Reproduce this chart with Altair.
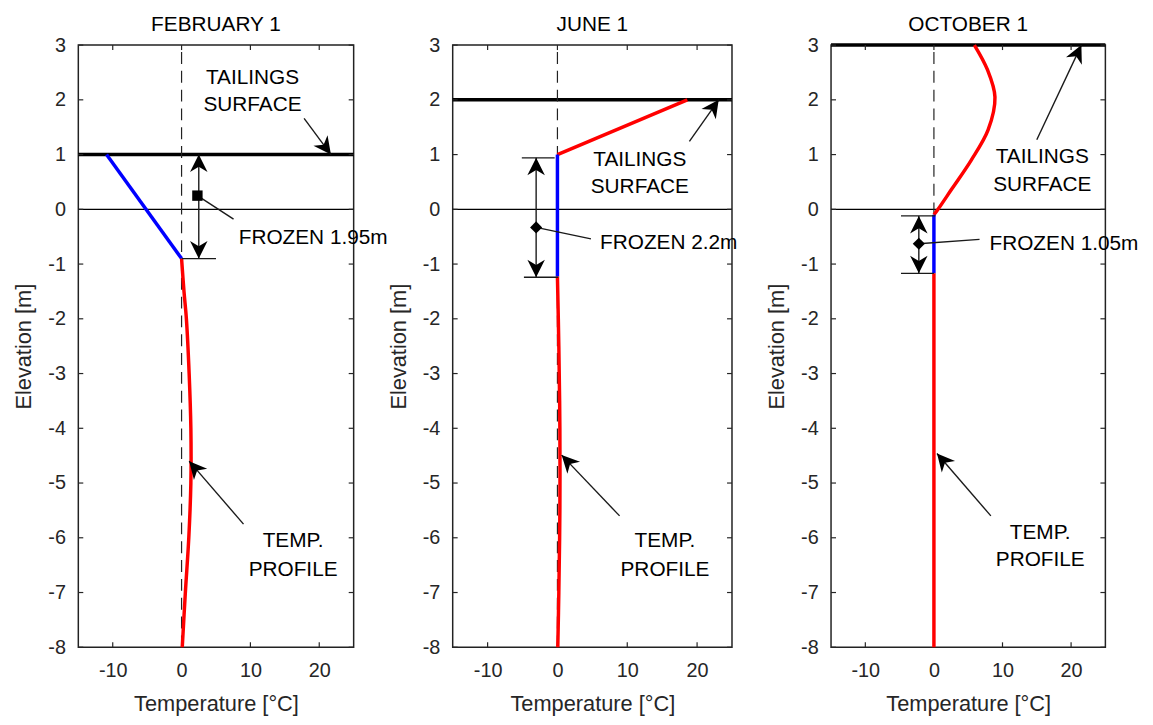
import math
import altair as alt
import pandas as pd

# ---------------- data ----------------
X_DOMAIN = [-15, 25]
Y_DOMAIN = [-8, 3]
X_TICKS = [-10, 0, 10, 20]
Y_TICKS = [-8, -7, -6, -5, -4, -3, -2, -1, 0, 1, 2, 3]

TITLES = ["FEBRUARY 1", "JUNE 1", "OCTOBER 1"]
SURFACE_ELEV = [1, 2, 3]
FROZEN_LABELS = ["FROZEN 1.95m", "FROZEN 2.2m", "FROZEN 1.05m"]

# temperature profiles (temperature, elevation), split into parts
FEB_FROZEN_T = [-10.9, 0.0]
FEB_FROZEN_E = [1.0, -0.9]
FEB_WARM_T = [0.0, 0.35, 0.7, 1.1, 1.35, 1.35, 1.05, 0.55, 0.1]
FEB_WARM_E = [-0.9, -1.5, -2.0, -3.0, -4.0, -5.0, -6.0, -7.0, -8.0]

JUN_WARM_TOP_T = [18.6, 0.0]
JUN_WARM_TOP_E = [2.0, 1.0]
JUN_FROZEN_T = [0.0, 0.0]
JUN_FROZEN_E = [1.0, -1.23]
JUN_WARM_BOT_T = [0.0, 0.2, 0.35, 0.35, 0.2, 0.05]
JUN_WARM_BOT_E = [-1.23, -2.5, -4.0, -5.5, -7.0, -8.0]

OCT_WARM_TOP_T = [5.9, 7.8, 8.9, 7.9, 5.45, 2.6, 0.6, 0.0]
OCT_WARM_TOP_E = [3.0, 2.55, 2.05, 1.45, 0.9, 0.37, 0.0, -0.1]
OCT_FROZEN_T = [0.0, 0.0]
OCT_FROZEN_E = [-0.1, -1.17]
OCT_WARM_BOT_T = [0.0, 0.0]
OCT_WARM_BOT_E = [-1.17, -8.0]

# annotation arrows (x_tail, y_tail, x_tip, y_tip), in data units
FEB_ARROWS = [(17.8, 1.66, 21.7, 1.0), (2.5, 0.25, 2.5, 1.0), (2.5, 0.25, 2.5, -0.9), (9.0, -5.75, 1.1, -4.6)]
JUN_ARROWS = [(18.9, 1.24, 23.1, 2.0), (-3.05, -0.33, -3.05, 0.94), (-3.05, -0.33, -3.05, -1.24), (8.9, -5.6, 0.6, -4.49)]
OCT_ARROWS = [(15.0, 1.27, 21.5, 3.0), (-2.2, -0.63, -2.2, -0.12), (-2.2, -0.63, -2.2, -1.17), (8.3, -5.6, 0.45, -4.46)]

# plain thin segments: limit ticks and leader lines (x1, y1, x2, y2)
FEB_SEGS = [(0.0, -0.9, 5.0, -0.9), (2.3, 0.25, 7.55, -0.18)]
JUN_SEGS = [(-5.1, 0.94, -0.4, 0.94), (-4.8, -1.24, 0.1, -1.24), (-3.05, -0.33, 4.8, -0.54)]
OCT_SEGS = [(-4.8, -0.12, 0.2, -0.12), (-4.8, -1.17, 0.0, -1.17), (-2.2, -0.63, 6.65, -0.55)]

# markers on the double arrows
MARKERS = [(2.3, 0.25), (-3.05, -0.33), (-2.2, -0.63)]
MARKER_SHAPES = ["square", "diamond", "diamond"]

# text labels (x, y, text)
FEB_TEXT_CENTER = [(10.3, 2.29, "TAILINGS"), (10.3, 1.79, "SURFACE"), (16.2, -6.16, "TEMP."), (16.2, -6.69, "PROFILE")]
JUN_TEXT_CENTER = [(11.8, 0.79, "TAILINGS"), (11.8, 0.29, "SURFACE"), (15.4, -6.16, "TEMP."), (15.4, -6.69, "PROFILE")]
OCT_TEXT_CENTER = [(15.8, 0.85, "TAILINGS"), (15.8, 0.34, "SURFACE"), (15.5, -6.02, "TEMP."), (15.5, -6.52, "PROFILE")]
FROZEN_TEXT_POS = [(8.3, -0.63), (6.1, -0.72), (8.1, -0.75)]

# ---------------- style ----------------
WIDTHS = [278, 282, 277]
HEIGHT = 608
RED = "#ff0000"
BLUE = "#0000ff"
AX = "#262626"
FONT = "Liberation Sans"
HEAD = "M0,0 L0.5,1 L0,0.7 L-0.5,1 Z"


def head_angle(x0, y0, x1, y1, sx, sy):
    dx = (x1 - x0) * sx
    dy = (y1 - y0) * sy
    return math.degrees(math.atan2(dx, dy)) % 360


def make_panel(i, parts, arrows, segs, tcenter):
    width = WIDTHS[i]
    sx = width / (X_DOMAIN[1] - X_DOMAIN[0])
    sy = HEIGHT / (Y_DOMAIN[1] - Y_DOMAIN[0])
    xs = alt.Scale(domain=X_DOMAIN, nice=False, zero=False)
    ys = alt.Scale(domain=Y_DOMAIN, nice=False, zero=False)
    xaxis = alt.Axis(values=X_TICKS, title="Temperature [°C]", labelExpr="'' + datum.value",
                     ticks=False, domain=False, grid=False, labelPadding=14, titlePadding=13,
                     labelFontSize=20, titleFontSize=22, titleFontWeight="normal",
                     labelColor=AX, titleColor=AX, labelFont=FONT, titleFont=FONT)
    yaxis = alt.Axis(values=Y_TICKS, title="Elevation [m]", labelExpr="'' + datum.value",
                     ticks=False, domain=False, grid=False, labelPadding=13, titlePadding=12,
                     labelFontSize=20, titleFontSize=22, titleFontWeight="normal",
                     labelColor=AX, titleColor=AX, labelFont=FONT, titleFont=FONT)

    def X(f):
        return alt.X(f, scale=xs, axis=xaxis)

    def Y(f):
        return alt.Y(f, scale=ys, axis=yaxis)

    # inward ticks on all four sides
    yt = pd.DataFrame({"y": Y_TICKS})
    xt = pd.DataFrame({"x": X_TICKS})
    tick_l = alt.Chart(yt).mark_rule(color=AX, strokeWidth=1.2).encode(y=Y("y:Q"), x=alt.value(0), x2=alt.value(5))
    tick_r = alt.Chart(yt).mark_rule(color=AX, strokeWidth=1.2).encode(y=Y("y:Q"), x=alt.value(width - 5), x2=alt.value(width))
    tick_b = alt.Chart(xt).mark_rule(color=AX, strokeWidth=1.2).encode(x=X("x:Q"), y=alt.value(HEIGHT - 5), y2=alt.value(HEIGHT))
    tick_t = alt.Chart(xt).mark_rule(color=AX, strokeWidth=1.2).encode(x=X("x:Q"), y=alt.value(0), y2=alt.value(5))

    # zero line and tailings surface
    hl = pd.DataFrame({"x1": [X_DOMAIN[0]] * 2, "x2": [X_DOMAIN[1]] * 2,
                       "y": [0, SURFACE_ELEV[i]], "w": [1.4, 3.6]})
    hlines = alt.Chart(hl).mark_rule(color="black").encode(
        x=X("x1:Q"), x2="x2:Q", y=Y("y:Q"), strokeWidth=alt.StrokeWidth("w:Q", scale=None))

    # dashed 0 degC line
    vd = pd.DataFrame({"x": [0], "y1": [Y_DOMAIN[0]], "y2": [Y_DOMAIN[1]]})
    dashed = alt.Chart(vd).mark_rule(color="#222222", strokeWidth=1.2, strokeDash=[12, 7]).encode(
        x=X("x:Q"), y=Y("y1:Q"), y2="y2:Q")

    # profile
    rows = []
    for pid, (kind, ts, es) in enumerate(parts):
        for k, (t, e) in enumerate(zip(ts, es)):
            rows.append({"t": t, "e": e, "kind": kind, "part": pid, "k": k})
    prof = alt.Chart(pd.DataFrame(rows)).mark_line(strokeWidth=3.5, interpolate="catmull-rom").encode(
        x=X("t:Q"), y=Y("e:Q"),
        color=alt.Color("kind:N", scale=alt.Scale(domain=["warm", "frozen"], range=[RED, BLUE]), legend=None),
        detail="part:N", order="k:Q")

    # arrow shafts + plain segments
    srows = [{"x1": a[0], "y1": a[1], "x2": a[2], "y2": a[3]} for a in arrows]
    srows += [{"x1": s[0], "y1": s[1], "x2": s[2], "y2": s[3]} for s in segs]
    shafts = alt.Chart(pd.DataFrame(srows)).mark_rule(color="#1a1a1a", strokeWidth=1.4).encode(
        x=X("x1:Q"), y=Y("y1:Q"), x2="x2:Q", y2="y2:Q")

    hrows = [{"x": a[2], "y": a[3], "ang": head_angle(a[0], a[1], a[2], a[3], sx, sy)} for a in arrows]
    heads = alt.Chart(pd.DataFrame(hrows)).mark_point(shape=HEAD, filled=True, color="black", opacity=1, size=1250).encode(
        x=X("x:Q"), y=Y("y:Q"), angle=alt.Angle("ang:Q", scale=None))

    mk = pd.DataFrame({"x": [MARKERS[i][0]], "y": [MARKERS[i][1]]})
    msize = 110 if MARKER_SHAPES[i] == "square" else 150
    marker = alt.Chart(mk).mark_point(shape=MARKER_SHAPES[i], filled=True, color="black", opacity=1, size=msize).encode(
        x=X("x:Q"), y=Y("y:Q"))

    tc = pd.DataFrame([{"x": t[0], "y": t[1], "txt": t[2]} for t in tcenter])
    texts_c = alt.Chart(tc).mark_text(align="center", baseline="alphabetic", fontSize=21, color="black", font=FONT).encode(
        x=X("x:Q"), y=Y("y:Q"), text="txt:N")
    tl = pd.DataFrame([{"x": FROZEN_TEXT_POS[i][0], "y": FROZEN_TEXT_POS[i][1], "txt": FROZEN_LABELS[i]}])
    texts_l = alt.Chart(tl).mark_text(align="left", baseline="alphabetic", fontSize=21, color="black", font=FONT).encode(
        x=X("x:Q"), y=Y("y:Q"), text="txt:N")

    return alt.layer(hlines, tick_l, tick_r, tick_b, tick_t, dashed, prof, shafts, heads, marker, texts_c, texts_l).properties(
        width=width, height=HEIGHT,
        title=alt.TitleParams(TITLES[i], frame="group", anchor="middle", offset=-17, baseline="alphabetic",
                              fontSize=21, fontWeight="normal", color="black", font=FONT))


p1 = make_panel(0, [("frozen", FEB_FROZEN_T, FEB_FROZEN_E), ("warm", FEB_WARM_T, FEB_WARM_E)],
                FEB_ARROWS, FEB_SEGS, FEB_TEXT_CENTER)
p2 = make_panel(1, [("warm", JUN_WARM_TOP_T, JUN_WARM_TOP_E), ("frozen", JUN_FROZEN_T, JUN_FROZEN_E),
                    ("warm", JUN_WARM_BOT_T, JUN_WARM_BOT_E)],
                JUN_ARROWS, JUN_SEGS, JUN_TEXT_CENTER)
p3 = make_panel(2, [("warm", OCT_WARM_TOP_T, OCT_WARM_TOP_E), ("frozen", OCT_FROZEN_T, OCT_FROZEN_E),
                    ("warm", OCT_WARM_BOT_T, OCT_WARM_BOT_E)],
                OCT_ARROWS, OCT_SEGS, OCT_TEXT_CENTER)

chart = alt.hconcat(p1, p2, p3, spacing=100, bounds="flush").properties(
    padding={"left": 4, "top": 2, "right": 5, "bottom": 2}
).configure(font=FONT, background="white").configure_view(stroke="#222222", strokeWidth=1.5)

chart.save("out.html", embed_options={"renderer": "svg", "actions": False})
